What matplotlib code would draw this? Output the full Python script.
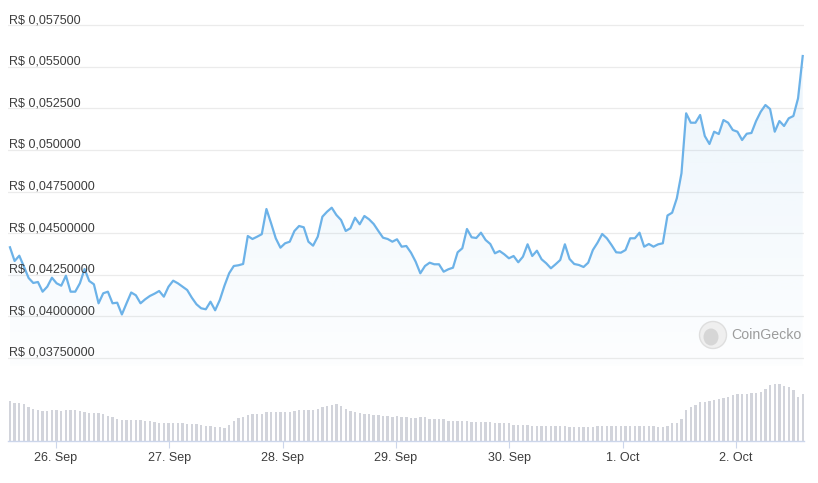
import numpy as np
import pandas as pd
import matplotlib
matplotlib.use("Agg")
import matplotlib.pyplot as plt
import matplotlib.dates as mdates
from matplotlib.patches import Ellipse

# ---------------- data ----------------
prices = [
    0.044149, 0.043326, 0.043644, 0.042984, 0.042305, 0.042005, 0.042065, 0.041482, 0.041782, 0.042323,
    0.041987, 0.041842, 0.042443, 0.041482, 0.041482, 0.041987, 0.042845, 0.042125, 0.041926, 0.040785,
    0.041386, 0.041482, 0.040785, 0.040821, 0.040113, 0.040785, 0.041434, 0.041266, 0.040785, 0.041026,
    0.041224, 0.041362, 0.041524, 0.041182, 0.041782, 0.042143, 0.041987, 0.041782, 0.041584, 0.041122,
    0.040725, 0.040485, 0.040425, 0.040881, 0.040365, 0.040983, 0.041842, 0.042587, 0.043026, 0.043068,
    0.043146, 0.044827, 0.044647, 0.044785, 0.044935, 0.046449, 0.045590, 0.044689, 0.044125, 0.044389,
    0.044485, 0.045128, 0.045428, 0.045350, 0.044485, 0.044245, 0.044785, 0.045987, 0.046287, 0.046527,
    0.046089, 0.045788, 0.045128, 0.045290, 0.045926, 0.045530, 0.046029, 0.045830, 0.045548, 0.045128,
    0.044725, 0.044647, 0.044485, 0.044629, 0.044185, 0.044227, 0.043824, 0.043284, 0.042587, 0.043026,
    0.043224, 0.043128, 0.043128, 0.042683, 0.042827, 0.042923, 0.043848, 0.044089, 0.045248, 0.044749,
    0.044707, 0.045026, 0.044587, 0.044347, 0.043788, 0.043926, 0.043728, 0.043488, 0.043626, 0.043248,
    0.043584, 0.044329, 0.043626, 0.043944, 0.043428, 0.043188, 0.042888, 0.043128, 0.043386, 0.044329,
    0.043446, 0.043146, 0.043086, 0.042965, 0.043224, 0.043986, 0.044425, 0.044947, 0.044689, 0.044287,
    0.043848, 0.043824, 0.043986, 0.044689, 0.044689, 0.045026, 0.044185, 0.044347, 0.044185, 0.044329,
    0.044389, 0.046059, 0.046227, 0.047092, 0.048593, 0.052197, 0.051632, 0.051632, 0.052095, 0.050833,
    0.050353, 0.051092, 0.050953, 0.051794, 0.051632, 0.051194, 0.051092, 0.050593, 0.050971, 0.051014,
    0.051734, 0.052293, 0.052695, 0.052455, 0.051092, 0.051734, 0.051434, 0.051896, 0.052035, 0.053098,
    0.055638,
]

volumes = [
    120, 114, 114, 111, 103, 97, 93, 90, 90, 93,
    93, 90, 93, 93, 93, 90, 87, 84, 84, 84,
    81, 75, 72, 66, 63, 63, 63, 63, 63, 60,
    60, 57, 55, 55, 55, 55, 55, 55, 52, 52,
    52, 49, 46, 46, 43, 43, 38, 48, 60, 69,
    73, 79, 82, 82, 82, 86, 86, 86, 86, 86,
    86, 90, 93, 93, 93, 93, 97, 103, 106, 109,
    111, 106, 96, 90, 87, 84, 81, 81, 79, 79,
    76, 76, 73, 76, 73, 73, 69, 69, 71, 71,
    67, 65, 65, 65, 61, 61, 61, 61, 61, 58,
    58, 58, 58, 57, 55, 55, 55, 55, 49, 49,
    49, 49, 46, 46, 46, 46, 46, 46, 46, 46,
    43, 43, 43, 43, 43, 43, 46, 46, 46, 46,
    46, 46, 46, 46, 46, 46, 46, 46, 46, 43,
    43, 46, 55, 55, 65, 93, 103, 109, 116, 116,
    120, 123, 126, 129, 133, 137, 141, 141, 141, 144,
    145, 148, 157, 169, 171, 171, 165, 162, 153, 133,
    141,
]

start_time = "2024-09-25 14:15"
end_time = "2024-10-02 14:08"

ytick_values = [0.0375, 0.0400, 0.0425, 0.0450, 0.0475, 0.0500, 0.0525, 0.0550, 0.0575]
ytick_labels = ["R$ 0,03750000", "R$ 0,04000000", "R$ 0,04250000", "R$ 0,04500000",
                "R$ 0,04750000", "R$ 0,050000", "R$ 0,052500", "R$ 0,055000", "R$ 0,057500"]

xtick_dates = ["2024-09-26", "2024-09-27", "2024-09-28", "2024-09-29",
               "2024-09-30", "2024-10-01", "2024-10-02"]
xtick_labels = ["26. Sep", "27. Sep", "28. Sep", "29. Sep", "30. Sep", "1. Oct", "2. Oct"]

# ---------------- layout ----------------
plt.rcParams["font.family"] = ["Liberation Sans", "DejaVu Sans"]
W, H = 818, 483
fig = plt.figure(figsize=(W / 100, H / 100), dpi=100)


def rect(x0, y0, x1, y1):
    return [x0 / W, 1 - y1 / H, (x1 - x0) / W, (y1 - y0) / H]


ax = fig.add_axes(rect(8, 16.7, 804, 366.3))
axv = fig.add_axes(rect(8, 372, 804, 441))

t0 = mdates.date2num(pd.Timestamp(start_time))
t1 = mdates.date2num(pd.Timestamp(end_time))
times = np.linspace(t0, t1, len(prices))
tick_nums = [mdates.date2num(pd.Timestamp(d)) for d in xtick_dates]

day_px = 113.33
xl = (tick_nums[0] - 48 / day_px, tick_nums[0] + 748 / day_px)

line_color = "#6cb2e8"
label_color = "#3d3d3d"
ymin, ymax = 0.0370, 0.0580

# price panel
for v in ytick_values:
    ax.axhline(v, color="#ebebeb", lw=0.9, zorder=0)

poly = ax.fill_between(times, prices, ymin, color="none", lw=0)
grad = np.zeros((256, 1, 4))
rgb = np.array([108, 178, 232]) / 255.0
grad[:, 0, :3] = rgb
grad[:, 0, 3] = np.linspace(0.015, 0.13, 256)
img = ax.imshow(grad, extent=[times[0], times[-1], ymin, max(prices)],
                aspect="auto", origin="lower", zorder=1)
img.set_clip_path(poly.get_paths()[0], transform=ax.transData)

ax.plot(times, prices, color=line_color, lw=1.6, solid_joinstyle="round", zorder=3)

for v, lab in zip(ytick_values, ytick_labels):
    ax.annotate(lab, xy=(0, v), xycoords=("axes fraction", "data"),
                xytext=(1, 2), textcoords="offset pixels",
                ha="left", va="baseline", fontsize=9, color=label_color, zorder=4)

ax.set_xlim(*xl)
ax.set_ylim(ymin, ymax)
ax.set_xticks([])
ax.set_yticks([])
for s in ax.spines.values():
    s.set_visible(False)
ax.patch.set_alpha(0)

# watermark
fig.add_artist(Ellipse((713 / W, 1 - 335 / H), 27 / W, 27 / H, transform=fig.transFigure,
                       facecolor="#efefef", edgecolor="#dedede", lw=1))
fig.add_artist(Ellipse((711 / W, 1 - 337 / H), 15 / W, 17 / H, transform=fig.transFigure,
                       facecolor="#d6d6d6", edgecolor="none"))
fig.text(731 / W, 1 - 335 / H, "CoinGecko", fontsize=10.2, color="#9c9c9c",
         ha="left", va="center")

# volume panel
axv.bar(times, volumes, width=2.4 / day_px, color="#d2d4db", lw=0, align="center")
axv.set_xlim(*xl)
axv.set_ylim(0, 171 * 69 / 57)
axv.set_yticks([])
for k in ["top", "left", "right"]:
    axv.spines[k].set_visible(False)
axv.spines["bottom"].set_color("#ccd6eb")
axv.spines["bottom"].set_linewidth(1.0)
axv.set_xticks(tick_nums)
axv.set_xticklabels(xtick_labels)
axv.tick_params(axis="x", length=5, width=0.8, color="#ccd6eb", pad=3,
                labelsize=9, labelcolor=label_color)
axv.patch.set_alpha(0)

fig.savefig("out.png", dpi=100)
